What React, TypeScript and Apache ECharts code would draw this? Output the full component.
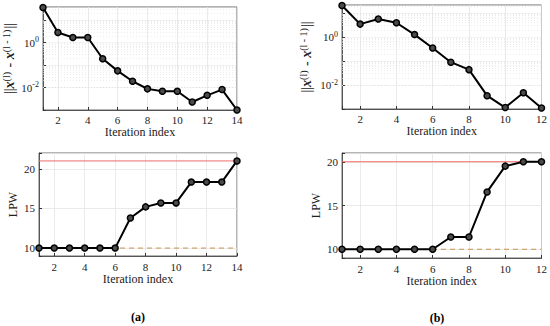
import React, { useEffect, useRef } from "react";
import * as echarts from "echarts";

const itersA = [1, 2, 3, 4, 5, 6, 7, 8, 9, 10, 11, 12, 13, 14];
const itersB = [1, 2, 3, 4, 5, 6, 7, 8, 9, 10, 11, 12];
const diffA = [36, 2.8, 1.67, 1.67, 0.19, 0.055, 0.019, 0.0087, 0.0068, 0.0068, 0.00226, 0.0045, 0.0081, 0.001];
const diffB = [21, 3.5, 5.7, 4.0, 1.28, 0.35, 0.09, 0.044, 0.0036, 0.00115, 0.0048, 0.0011];
const lpwA = [10, 10, 10, 10, 10, 10, 13.8, 15.2, 15.7, 15.7, 18.33, 18.33, 18.33, 21];
const lpwB = [10, 10, 10, 10, 10, 10, 11.4, 11.4, 16.55, 19.5, 20, 20];
const lpwMaxA = 21;
const lpwMaxB = 20;
const lpwMin = 10;
const xLabel = "Iteration index";
const lpwLabel = "LPW";
const panelLabels = ["(a)", "(b)"];

const FONT = "'Liberation Serif', 'Times New Roman', serif";

export default function App() {
  const ref = useRef<HTMLDivElement>(null);
  useEffect(() => {
    document.body.style.margin = "0";
    const chart = echarts.init(ref.current!, null, { renderer: "svg" });

    const minorGrid = (lo: number, hi: number) => {
      const out: any[] = [];
      for (let d = -4; d <= 2; d++) {
        for (let k = 1; k <= 9; k++) {
          const v = k * Math.pow(10, d);
          if (v > lo && v < hi && !(k === 1 && (d === 0 || d === -2))) out.push({ yAxis: v });
        }
      }
      return out;
    };

    const axisText = { fontFamily: FONT, fontSize: 11, color: "#222" };
    const xAxisCfg = (gi: number, max: number, gap: number, margin: number) => ({
      type: "value",
      gridIndex: gi,
      min: 1,
      max,
      splitNumber: 6,
      name: xLabel,
      nameLocation: "middle",
      nameGap: gap,
      nameTextStyle: { fontFamily: FONT, fontSize: 12, color: "#222" },
      axisLine: { show: true, lineStyle: { color: "#333", width: 0.8 } },
      axisTick: { show: true, inside: true, length: 3, lineStyle: { color: "#333" } },
      axisLabel: {
        ...axisText,
        margin,
        formatter: (v: number) => (Math.abs(v % 2) < 1e-9 ? String(v) : ""),
      },
      splitLine: { show: true, lineStyle: { color: "#e4e4e4", width: 0.8 } },
    });
    const logAxis = (gi: number, min: number, max: number, gap: number) => ({
      type: "log",
      logBase: 10,
      gridIndex: gi,
      min,
      max,
      interval: 1,
      name: "{n|||}{x|x}{s|(l)}{n| - }{x|x}{s|(l - 1)}{n|||}",
      nameLocation: "middle",
      nameRotate: 90,
      nameGap: gap,
      nameTextStyle: {
        fontFamily: FONT,
        rich: {
          n: { fontFamily: FONT, fontSize: 14, color: "#222" },
          x: { fontFamily: FONT, fontSize: 14, fontWeight: "bold", fontStyle: "italic", color: "#222" },
          s: { fontFamily: FONT, fontSize: 10, color: "#222", verticalAlign: "top", padding: [0, 1, 6, 0] },
        },
      },
      axisLine: { show: true, lineStyle: { color: "#333", width: 0.8 } },
      axisTick: { show: true, inside: true, length: 3, lineStyle: { color: "#333" } },
      axisLabel: {
        fontFamily: FONT,
        margin: 4,
        formatter: (v: number) => {
          const e = Math.round(Math.log10(v));
          if (Math.abs(Math.log10(v) - e) > 1e-6) return "";
          if (e === 0 || e === -2) return "{b|10}{s|" + e + "}";
          return "";
        },
        rich: {
          b: { fontFamily: FONT, fontSize: 11, color: "#222" },
          s: { fontFamily: FONT, fontSize: 8, color: "#222", padding: [0, 0, 6, 0] },
        },
      },
      splitLine: { show: true, lineStyle: { color: "#e4e4e4", width: 0.8, type: "dotted" } },
    });
    const linAxis = (gi: number, min: number, max: number) => ({
      type: "value",
      gridIndex: gi,
      min,
      max,
      splitNumber: 3,
      name: lpwLabel,
      nameLocation: "middle",
      nameRotate: 90,
      nameGap: 20,
      nameTextStyle: { fontFamily: FONT, fontSize: 12, color: "#222" },
      axisLine: { show: true, lineStyle: { color: "#333", width: 0.8 } },
      axisTick: { show: true, inside: true, length: 3, lineStyle: { color: "#333" } },
      axisLabel: {
        ...axisText,
        margin: 4,
        formatter: (v: number) => (Math.abs(v % 5) < 1e-9 ? String(v) : ""),
      },
      splitLine: { show: true, lineStyle: { color: "#e4e4e4", width: 0.8 } },
    });

    const lineSeries = (xi: number, xs: number[], ys: number[], extra: any = {}) => ({
      type: "line",
      xAxisIndex: xi,
      yAxisIndex: xi,
      data: xs.map((x, i) => [x, ys[i]]),
      symbol: "circle",
      symbolSize: 6,
      lineStyle: { color: "#000", width: 2 },
      itemStyle: { color: "#4a4a4a", borderColor: "#000", borderWidth: 1.5 },
      z: 5,
      ...extra,
    });

    const hLine = (xi: number, xs: number[], value: number, color: string, type: any) => ({
      type: "line",
      xAxisIndex: xi,
      yAxisIndex: xi,
      data: [[xs[0], value], [xs[xs.length - 1], value]],
      showSymbol: false,
      symbol: "none",
      silent: true,
      lineStyle: { color, width: 1, type },
      z: 3,
    });

    const minorLines = (lo: number, hi: number) => ({
      silent: true,
      symbol: "none",
      label: { show: false },
      lineStyle: { color: "#e0e0e0", width: 0.6, type: [1, 2] },
      data: minorGrid(lo, hi),
      z: 1,
    });

    chart.setOption({
      animation: false,
      textStyle: { fontFamily: FONT },
      grid: [
        { left: 39, top: 7, width: 198, height: 103, show: true, borderColor: "#444", borderWidth: 0.8 },
        { left: 39, top: 153, width: 198, height: 103, show: true, borderColor: "#444", borderWidth: 0.8 },
        { left: 342, top: 5, width: 201, height: 104, show: true, borderColor: "#444", borderWidth: 0.8 },
        { left: 342, top: 153, width: 201, height: 105, show: true, borderColor: "#444", borderWidth: 0.8 },
      ],
      xAxis: [
        xAxisCfg(0, 14, 15, 4),
        xAxisCfg(1, 14, 15, 5),
        xAxisCfg(2, 12, 15, 4),
        xAxisCfg(3, 12, 15, 5),
      ],
      yAxis: [logAxis(0, 0.001, 38, 26), linAxis(1, 9, 22), logAxis(2, 0.001, 22, 28), linAxis(3, 9, 21)],
      series: [
        lineSeries(0, itersA, diffA, { markLine: minorLines(0.001, 38) }),
        hLine(1, itersA, lpwMaxA, "#f06a6a", "solid"),
        hLine(1, itersA, lpwMin, "#c8904a", [5, 4]),
        lineSeries(1, itersA, lpwA),
        lineSeries(2, itersB, diffB, { markLine: minorLines(0.001, 22) }),
        hLine(3, itersB, lpwMaxB, "#f06a6a", "solid"),
        hLine(3, itersB, lpwMin, "#c8904a", [5, 4]),
        lineSeries(3, itersB, lpwB),
      ],
      graphic: [
        { type: "text", x: 138, y: 317, style: { text: panelLabels[0], font: "bold 12px " + FONT, fill: "#000", align: "center", verticalAlign: "middle" } },
        { type: "text", x: 437, y: 318, style: { text: panelLabels[1], font: "bold 12px " + FONT, fill: "#000", align: "center", verticalAlign: "middle" } },
      ],
    });
    return () => chart.dispose();
  }, []);
  return <div ref={ref} style={{ width: 550, height: 326 }} />;
}
